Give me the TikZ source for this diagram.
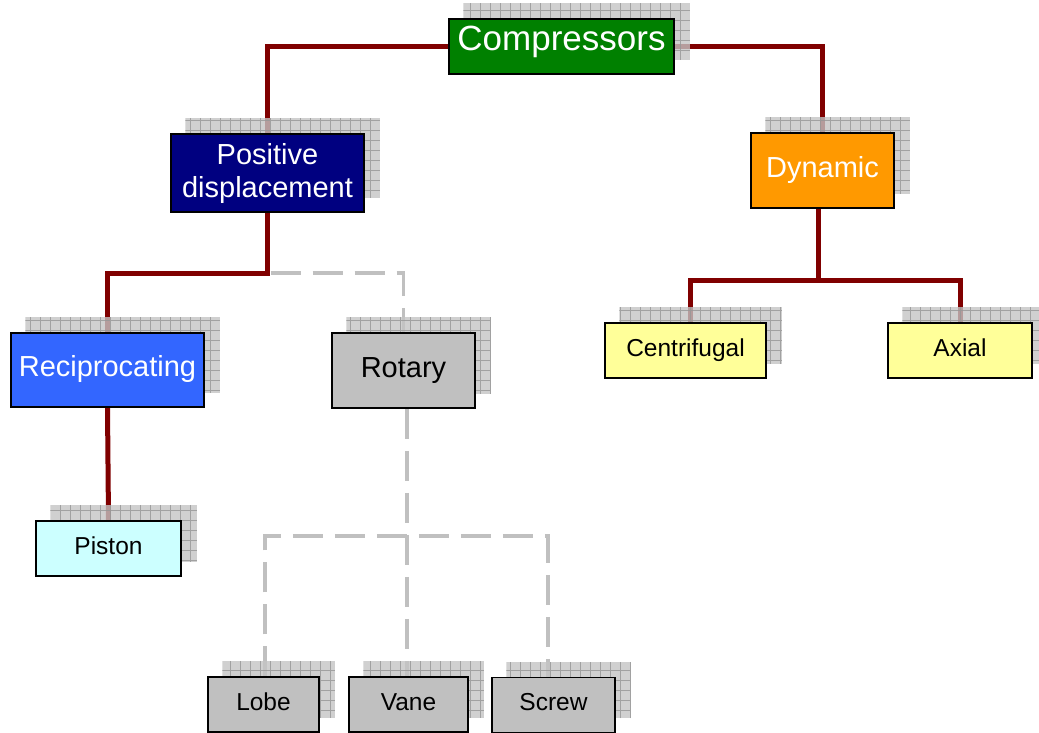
\documentclass[tikz,border=0pt]{standalone}
\usepackage{fontspec}
\setmainfont{Liberation Sans}
\usetikzlibrary{positioning}

\definecolor{linkred}{RGB}{128,0,0}
\definecolor{dashgray}{RGB}{192,192,192}
\definecolor{shadowgray}{RGB}{196,196,196}
\definecolor{gridgray}{RGB}{150,150,150}
\definecolor{compgreen}{RGB}{0,128,0}
\definecolor{posnavy}{RGB}{0,0,128}
\definecolor{dynorange}{RGB}{255,153,0}
\definecolor{recblue}{RGB}{51,102,255}
\definecolor{rotgray}{RGB}{192,192,192}
\definecolor{dynyellow}{RGB}{255,255,153}
\definecolor{pistcyan}{RGB}{204,255,255}

\pgfdeclarelayer{links}
\pgfdeclarelayer{shadows}
\pgfsetlayers{links,shadows,main}

\tikzset{
  box/.style={draw=black, line width=1.5pt, inner sep=0pt, align=center,
    text height=21pt, text depth=7.5pt,
    font=\fontsize{29}{33}\selectfont},
  smallbox/.style={box, minimum height=55pt, text height=17.6pt, text depth=6.5pt,
    font=\fontsize{24.5}{28}\selectfont},
  link/.style={draw=linkred, line width=5pt},
  dlink/.style={draw=dashgray, line width=3.5pt, dash pattern=on 30pt off 12pt},
}

\begin{document}
\begin{tikzpicture}[x=1pt, y=-1pt]
    \useasboundingbox (0,0) rectangle (1039,732);

    % Top
    \node[box, fill=compgreen, text=white, minimum width=225pt, minimum height=55pt,
      font=\fontsize{35}{40}\selectfont, text height=25pt, text depth=17pt] (comp) at (561.5,46.5) {Compressors};

    % Second level
    \node[box, fill=posnavy, text=white, minimum width=193pt, minimum height=78pt,
      text height={}, text depth={}] (posd) at (267.5,173) {Positive\\displacement};
    \node[box, fill=dynorange, text=white, minimum width=143pt, minimum height=75pt] (dyn) at (822.5,170.5) {Dynamic};

    % Third level
    \node[box, fill=recblue, text=white, minimum width=193pt, minimum height=74pt] (recip) at (107.5,370) {Reciprocating};
    \node[box, fill=rotgray, minimum width=143pt, minimum height=75pt] (rot) at (403.5,370.5) {Rotary};
    \node[smallbox, fill=dynyellow, minimum width=161pt] (cent) at (685.5,350.5) {Centrifugal};
    \node[smallbox, fill=dynyellow, minimum width=144pt] (axial) at (960,350.5) {Axial};

    % Bottom
    \node[smallbox, fill=pistcyan, minimum width=145pt] (piston) at (108.5,548.5) {Piston};
    \node[smallbox, fill=rotgray, minimum width=111pt] (lobe) at (263.5,704.5) {Lobe};
    \node[smallbox, fill=rotgray, minimum width=119pt] (vane) at (408.5,704.5) {Vane};
    \node[smallbox, fill=rotgray, minimum width=123pt] (screw) at (553.5,705) {Screw};

    % Shadows
    \begin{pgfonlayer}{shadows}
    \foreach \n in {comp,posd,dyn,recip,rot,cent,axial,piston,lobe,vane,screw} {
        \begin{scope}[opacity=0.8]
        \path[clip] ([shift={(15pt,15pt)}]\n.south west) rectangle ([shift={(15pt,15pt)}]\n.north east);
        \fill[shadowgray] ([shift={(15pt,15pt)}]\n.south west) rectangle ([shift={(15pt,15pt)}]\n.north east);
        \draw[gridgray, line width=0.8pt, step=10pt] ([shift={(15pt,15pt)}]\n.south west) grid ([shift={(15pt,15pt)}]\n.north east);
        \end{scope}
    }
    \end{pgfonlayer}

    % Connectors
    \begin{pgfonlayer}{links}
    \draw[link] (comp.west) -| (posd.north);
    \draw[link] (comp.east) -| (dyn.north);
    \coordinate (pdj) at (posd.south |- 0,273);
    \draw[link] (posd.south) -- (pdj) -| (recip.north);
    \draw[dlink] ([xshift=3pt]pdj) -| (rot.north);
    \draw[link] (recip.south) -- (piston.north);
    \coordinate (dj) at (818,280);
    \draw[link] (dyn.south -| dj) -- (dj);
    \draw[link] (dj) -| ([xshift=4.5pt]cent.north);
    \draw[link] (dj) -| (axial.north);
    \coordinate (rj) at (407,536);
    \draw[dlink] (rj |- rot.south) -- (rj |- vane.north);
    \draw[dlink] (lobe.north -| 265,0) |- (rj) -| ([xshift=-5.5pt]screw.north);
    \end{pgfonlayer}
\end{tikzpicture}
\end{document}
